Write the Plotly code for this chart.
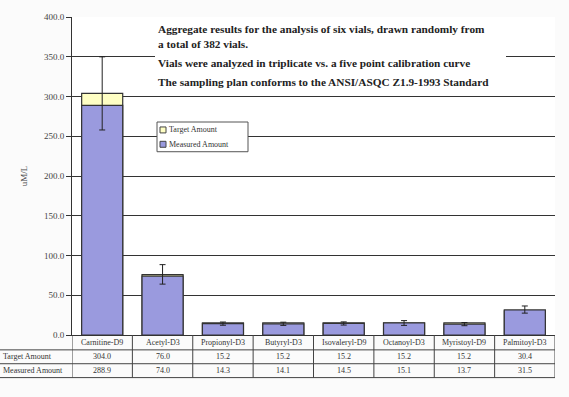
import plotly.graph_objects as go

categories = ["Carnitine-D9", "Acetyl-D3", "Propionyl-D3", "Butyryl-D3",
              "Isovaleryl-D9", "Octanoyl-D3", "Myristoyl-D9", "Palmitoyl-D3"]
target = [304.0, 76.0, 15.2, 15.2, 15.2, 15.2, 15.2, 30.4]
measured = [288.9, 74.0, 14.3, 14.1, 14.5, 15.1, 13.7, 31.5]
err_plus = [61.0, 14.5, 2.0, 2.0, 2.0, 3.0, 2.0, 5.0]
err_minus = [31.0, 10.0, 2.0, 2.0, 2.0, 3.0, 2.0, 4.0]
y_ticks = [0, 50, 100, 150, 200, 250, 300, 350, 400]
row_labels = ["Target Amount", "Measured Amount"]
series_names = ["Target Amount", "Measured Amount"]
series_colors = ["#ffffc4", "#9a9ade"]
notes = ["Aggregate results for the analysis of six vials, drawn randomly from<br>a total of 382 vials.",
         "Vials were analyzed in triplicate vs. a five point calibration curve",
         "The sampling plan conforms to the ANSI/ASQC Z1.9-1993 Standard"]

W, H = 569, 397
ML, MR, MT, MB = 72, 14, 14, 62
PW, PH = W - ML - MR, H - MT - MB
def px(xp):
    return (xp - ML) / PW
def py(yp):
    return (H - MB - yp) / PH

FONT = "Liberation Serif"
TXT = "#333333"
idx = list(range(len(categories)))

fig = go.Figure()
fig.add_trace(go.Bar(x=idx, y=target, name=series_names[0], width=0.68,
                     marker=dict(color=series_colors[0], line=dict(color="#333333", width=1.2))))
fig.add_trace(go.Bar(x=idx, y=measured, name=series_names[1], width=0.68,
                     marker=dict(color=series_colors[1], line=dict(color="#333333", width=1.2)),
                     error_y=dict(type="data", symmetric=False, array=err_plus,
                                  arrayminus=err_minus, color="#222222",
                                  thickness=1, width=3)))

shapes = []
# white box behind notes
shapes.append(dict(type="rect", xref="paper", yref="paper", x0=px(155), x1=px(506),
                   y0=py(90), y1=py(18), fillcolor="white", line=dict(width=0), layer="above"))
# custom legend box
shapes.append(dict(type="rect", xref="paper", yref="paper", x0=px(157), x1=px(248),
                   y0=py(150), y1=py(120), fillcolor="white",
                   line=dict(color="#555555", width=1), layer="above"))
for j, col in enumerate(series_colors):
    yc = 128 + 14.5 * j
    shapes.append(dict(type="rect", xref="paper", yref="paper", x0=px(160), x1=px(166),
                       y0=py(yc + 3), y1=py(yc - 3), fillcolor=col,
                       line=dict(color="#444444", width=1), layer="above"))
# table lines
line_c = dict(color="#444444", width=1)
for yp in [350, 364, 378]:
    shapes.append(dict(type="line", xref="paper", yref="paper", x0=px(0), x1=1,
                       y0=py(yp), y1=py(yp), line=line_c))
for k in range(len(categories) + 1):
    shapes.append(dict(type="line", xref="x", yref="paper", x0=k - 0.5, x1=k - 0.5,
                       y0=py(335), y1=py(378), line=line_c))

ann = []
small = dict(family=FONT, size=8, color=TXT)
for i, c in enumerate(categories):
    ann.append(dict(x=i, y=py(342.5), xref="x", yref="paper", text=c, showarrow=False,
                    yanchor="middle", font=small))
    ann.append(dict(x=i, y=py(357), xref="x", yref="paper", text=f"{target[i]:.1f}",
                    showarrow=False, yanchor="middle", font=small))
    ann.append(dict(x=i, y=py(371), xref="x", yref="paper", text=f"{measured[i]:.1f}",
                    showarrow=False, yanchor="middle", font=small))
for j, r in enumerate(row_labels):
    ann.append(dict(x=px(1), y=py(357 + 14 * j), xref="paper", yref="paper", text=r,
                    showarrow=False, xanchor="left", yanchor="middle", font=small))
for j, n in enumerate(series_names):
    ann.append(dict(x=px(167), y=py(128 + 14.5 * j), xref="paper", yref="paper", text=n,
                    showarrow=False, xanchor="left", yanchor="middle", font=small))
note_y = [34, 60, 80]
for t, yy in zip(notes, note_y):
    ann.append(dict(x=px(156), y=py(yy), xref="paper", yref="paper", text="<b>" + t + "</b>",
                    showarrow=False, xanchor="left", yanchor="middle", align="left",
                    font=dict(family=FONT, size=11.3, color="#222222")))

fig.update_layout(
    width=W, height=H,
    margin=dict(l=ML, r=MR, t=MT, b=MB),
    barmode="overlay",
    paper_bgcolor="#fbfbfb", plot_bgcolor="white",
    font=dict(family=FONT, size=8, color=TXT),
    shapes=shapes, annotations=ann,
    showlegend=False,
    xaxis=dict(range=[-0.5, len(categories) - 0.5], showticklabels=False,
               showgrid=False, zeroline=False, showline=True, linecolor="#333333",
               linewidth=1, ticks=""),
    yaxis=dict(range=[0, 400], tickvals=y_ticks,
               ticktext=[f"{v:.1f}" for v in y_ticks], showgrid=True,
               gridcolor="#333333", gridwidth=1, zeroline=False, showline=True,
               linecolor="#333333", linewidth=1, ticks="outside", ticklen=5,
               tickcolor="#333333", tickfont=dict(family=FONT, size=9, color="#444444"),
               title=dict(text="uM/L", font=dict(family=FONT, size=9, color="#444444"),
                          standoff=14)),
)

fig.write_html("out.html", config={"displayModeBar": False},
               post_script="document.body.style.margin='0';")
